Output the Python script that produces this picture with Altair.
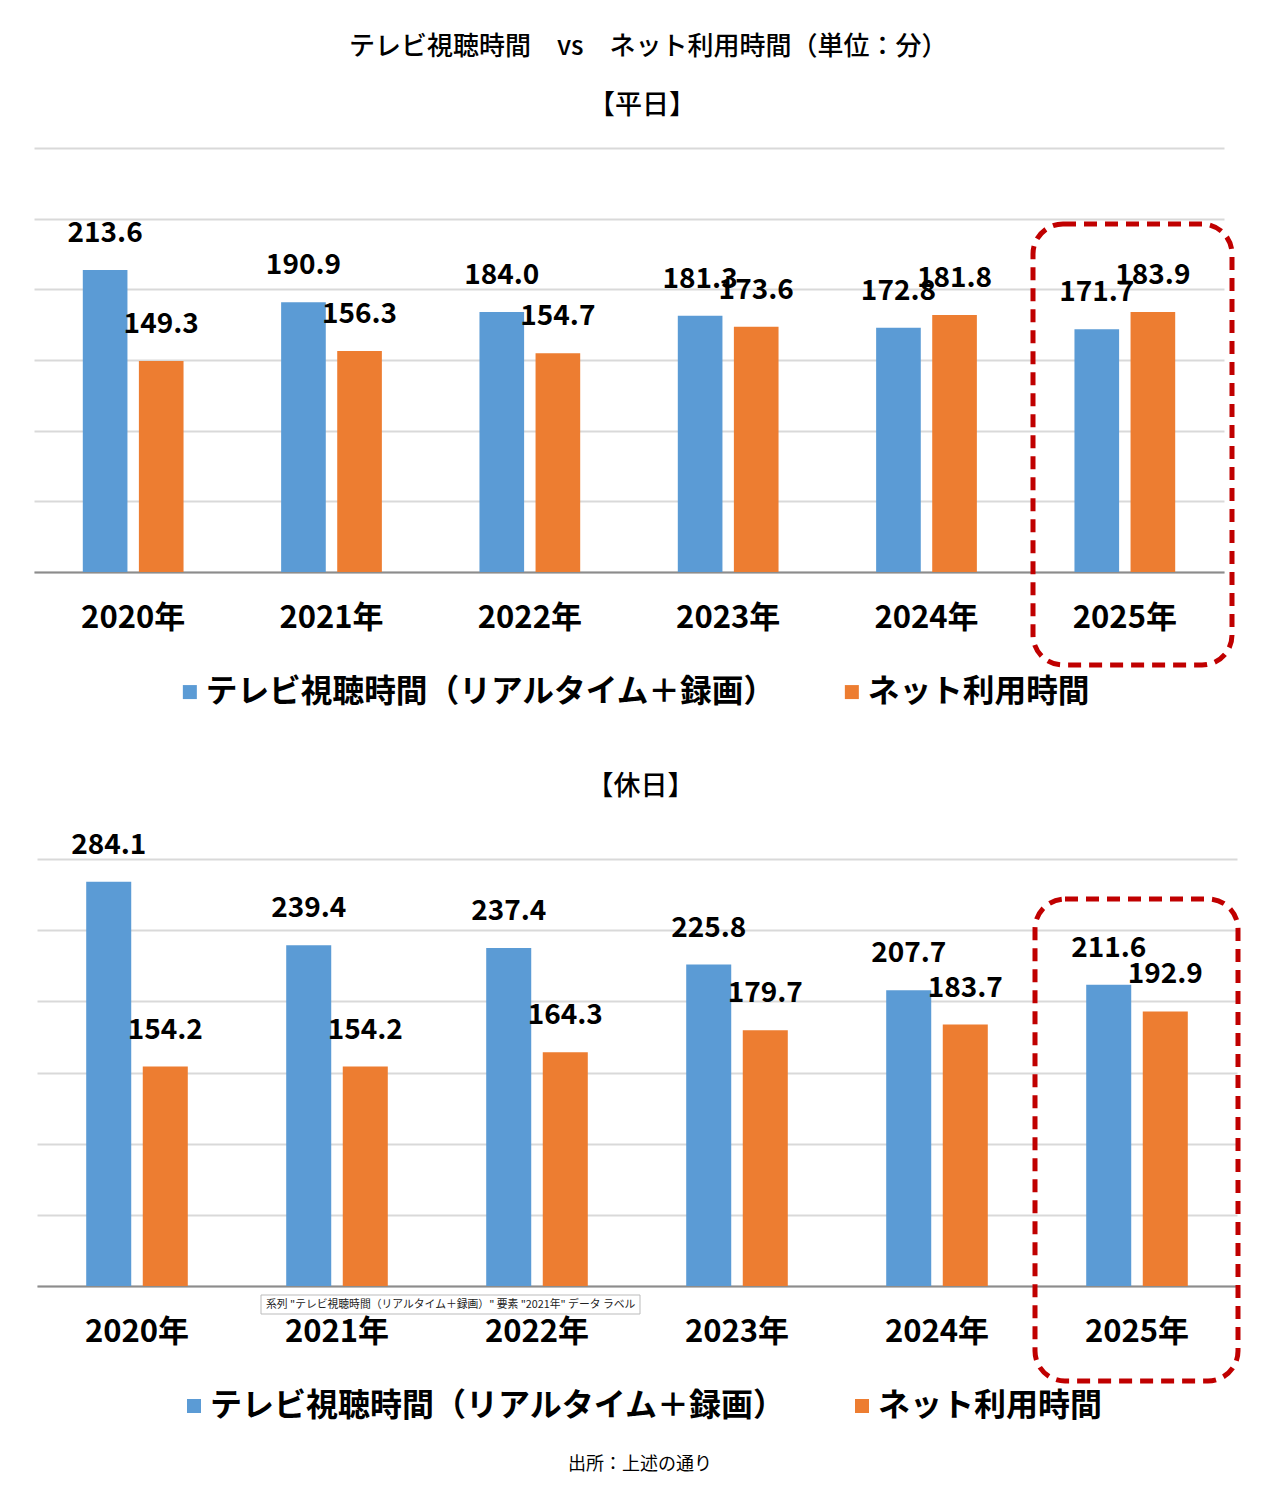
import altair as alt
import pandas as pd

FONT = "Noto Sans CJK JP"

years = ["2020年", "2021年", "2022年", "2023年", "2024年", "2025年"]
S1 = "テレビ視聴時間（リアルタイム＋録画）"
S2 = "ネット利用時間"
series = [S1, S2]

weekday_tv = [213.6, 190.9, 184.0, 181.3, 172.8, 171.7]
weekday_net = [149.3, 156.3, 154.7, 173.6, 181.8, 183.9]
holiday_tv = [284.1, 239.4, 237.4, 225.8, 207.7, 211.6]
holiday_net = [154.2, 154.2, 164.3, 179.7, 183.7, 192.9]

main_title = "テレビ視聴時間　vs　ネット利用時間（単位：分）"
weekday_title = "【平日】"
holiday_title = "【休日】"
source_text = "出所：上述の通り"
tooltip_text = '系列 "テレビ視聴時間（リアルタイム＋録画）" 要素 "2021年" データ ラベル'

BLUE = "#5B9BD5"
ORANGE = "#ED7D31"
RED = "#C00000"


def make_df(tv, net):
    rows = []
    for y, a, b in zip(years, tv, net):
        rows.append({"year": y, "series": S1, "value": a})
        rows.append({"year": y, "series": S2, "value": b})
    return pd.DataFrame(rows)


def panel(df, width, height, x_range, title, title_dx, title_off, leg_x, leg_y, leg_font,
          box, extras=None):
    x_enc = alt.X(
        "year:N", sort=years, title=None,
        scale=alt.Scale(paddingInner=0, paddingOuter=0, range=x_range),
        axis=alt.Axis(labelAngle=0, labelFont=FONT, labelFontSize=31, labelFontWeight="bold",
                      labelColor="#000000", ticks=False, labelPadding=31,
                      domainColor="#8C8C8C", domainWidth=2, grid=False),
    )
    xo_enc = alt.XOffset("series:N", sort=series,
                         scale=alt.Scale(paddingInner=0.204, paddingOuter=0.87))
    y_enc = alt.Y(
        "value:Q", title=None,
        scale=alt.Scale(domain=[0, 300], nice=False),
        axis=alt.Axis(values=[0, 50, 100, 150, 200, 250, 300], labels=False, ticks=False,
                      domain=False, grid=True, gridColor="#D9D9D9", gridWidth=2, minExtent=0),
    )
    base = alt.Chart(df)
    bars = base.mark_bar().encode(
        x=x_enc, xOffset=xo_enc, y=y_enc,
        color=alt.Color(
            "series:N", sort=series,
            scale=alt.Scale(domain=series, range=[BLUE, ORANGE]),
            legend=alt.Legend(
                title=None, orient="none", legendX=leg_x, legendY=leg_y,
                direction="horizontal", symbolType="square", symbolSize=196,
                symbolStrokeWidth=0, labelFont=FONT, labelFontSize=leg_font,
                labelFontWeight="bold", labelColor="#000000", labelLimit=800,
                labelOffset=0, columnPadding=59, padding=0,
            ),
        ),
    )
    labels = base.mark_text(
        font=FONT, fontSize=28, fontWeight="bold", color="#000000",
        baseline="middle", dy=-36,
    ).encode(
        x=alt.X("year:N", sort=years), xOffset=alt.XOffset("series:N", sort=series),
        y=alt.Y("value:Q"), text=alt.Text("value:Q", format=".1f"),
    )
    one = pd.DataFrame({"k": [0]})
    frame = alt.Chart(one).mark_rect(
        fill="transparent", stroke=RED, strokeWidth=5, strokeDash=[13, 8], cornerRadius=30,
    ).encode(
        x=alt.value(box[0]), x2=alt.value(box[1]), y=alt.value(box[2]), y2=alt.value(box[3]),
    )
    layers = [bars, labels, frame] + (extras or [])
    return alt.layer(*layers).properties(
        width=width, height=height,
        title=alt.TitleParams(title, font=FONT, fontSize=27, fontWeight=500, color="#000000",
                              anchor="middle", dx=title_dx, offset=title_off, baseline="bottom"),
    )


df1 = make_df(weekday_tv, weekday_net)
df2 = make_df(holiday_tv, holiday_net)

one = pd.DataFrame({"k": [0]})
tip_box = alt.Chart(one).mark_rect(fill="#FFFFFF", stroke="#BBBBBB", strokeWidth=1).encode(
    x=alt.value(227), x2=alt.value(606), y=alt.value(436), y2=alt.value(455),
)
tip_text = alt.Chart(one).mark_text(
    text=tooltip_text, font=FONT, fontSize=10.8, color="#222222", align="left", baseline="middle",
).encode(x=alt.value(232), y=alt.value(445.5))
source = alt.Chart(one).mark_text(
    text=source_text, font=FONT, fontSize=18, color="#000000", align="center", baseline="middle",
).encode(x=alt.value(606), y=alt.value(606))

p1 = panel(df1, 1190, 424, [0, 1190], weekday_title, 13, 1, 140, 528, 31.7,
           (999, 1198, 76, 517))
p2 = panel(df2, 1203, 427, [3, 1203], holiday_title, 5, 4, 144, 531, 32,
           (1001, 1204, 40, 522), extras=[tip_box, tip_text, source])

chart = alt.concat(p1, p2, columns=1, spacing=63).resolve_scale(
    x="independent", y="independent", xOffset="independent"
).resolve_legend(color="independent").properties(
    title=alt.TitleParams(main_title, font=FONT, fontSize=26, fontWeight=500, color="#000000",
                          anchor="middle", offset=32, dx=11),
    padding={"left": 26, "top": 26, "right": 5, "bottom": 5},
).configure_view(stroke=None)

chart.save("out.html", embed_options={"renderer": "svg", "actions": False})
